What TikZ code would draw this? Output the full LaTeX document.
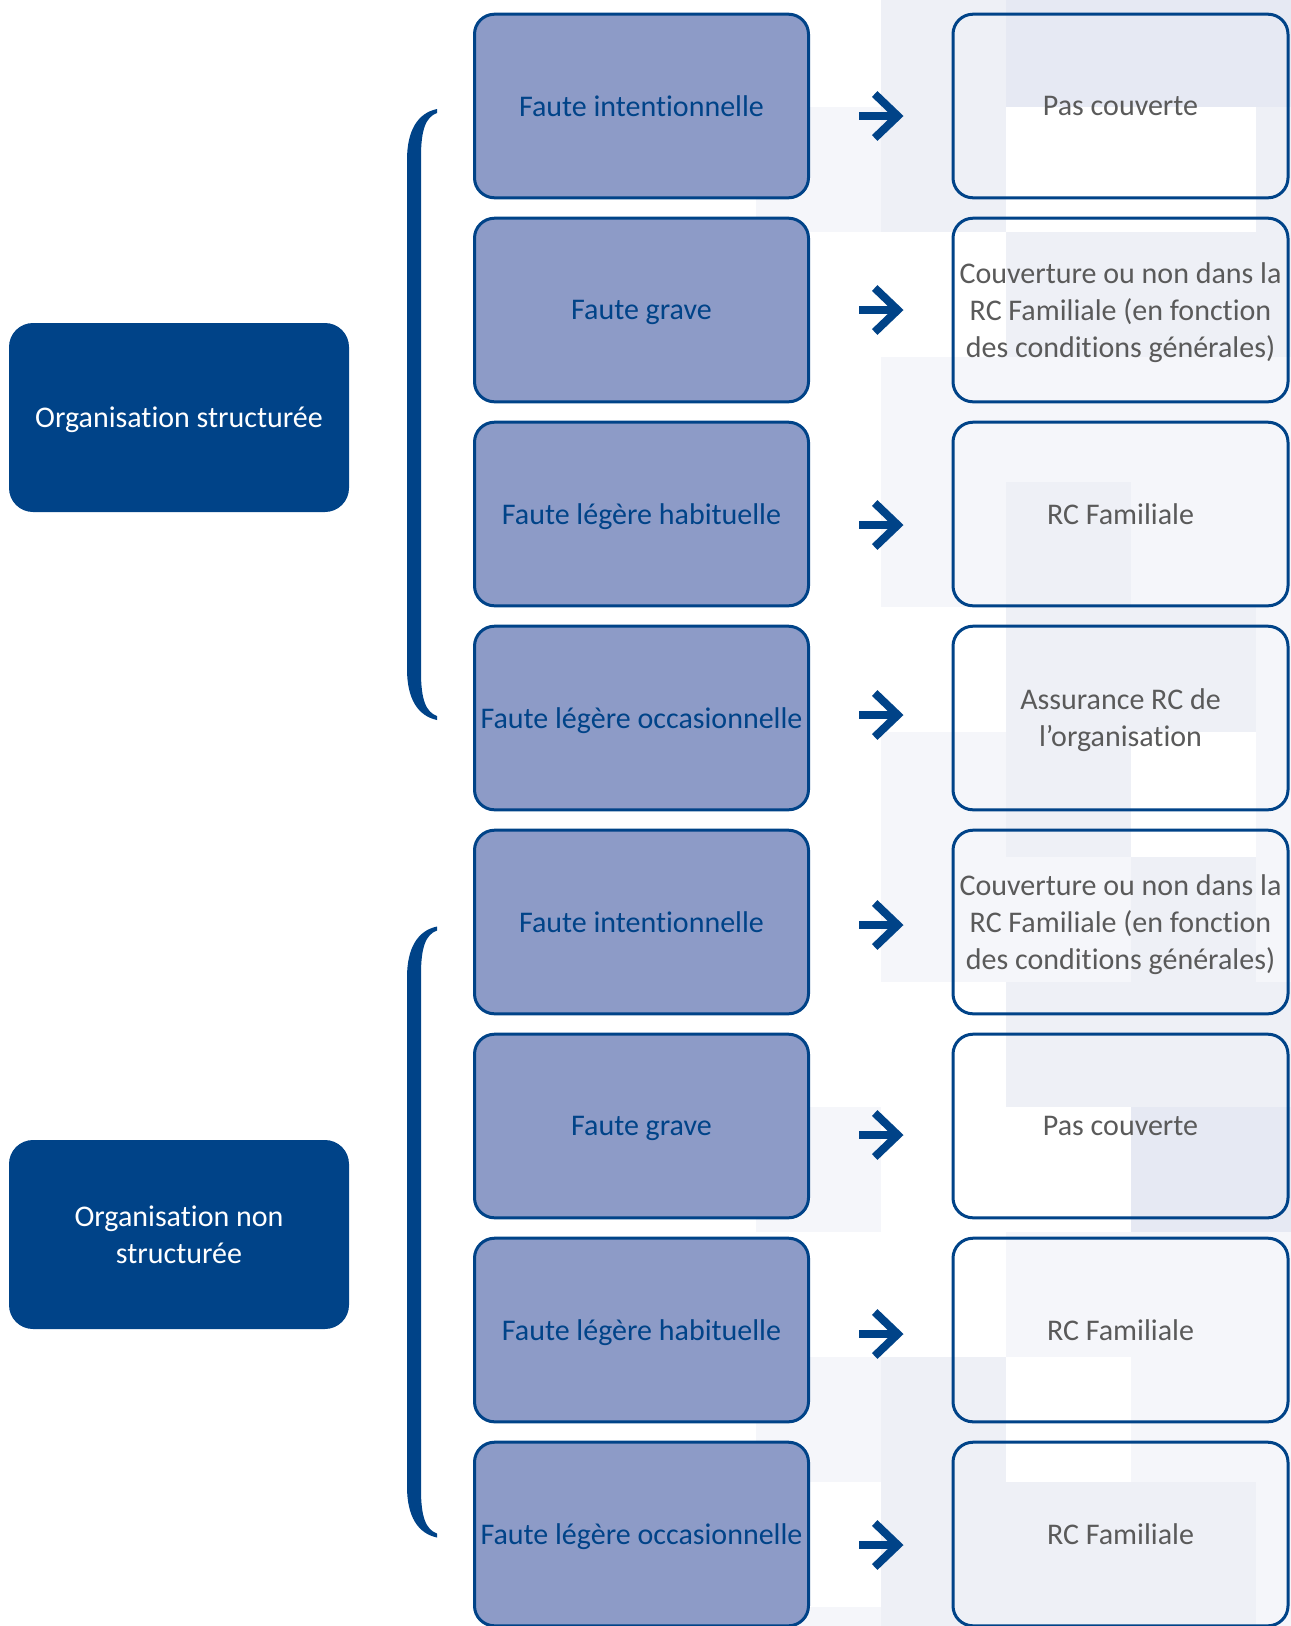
\documentclass[tikz,border=0pt]{standalone}
\usepackage{fontspec}
\setmainfont[Ligatures=NoCommon]{Carlito}
\usetikzlibrary{positioning,arrows.meta}
\definecolor{orgblue}{HTML}{004388}
\definecolor{fautefill}{HTML}{8D9BC7}
\definecolor{covgray}{HTML}{5A5A5A}
\definecolor{tile0}{HTML}{FFFFFF}
\definecolor{tile1}{HTML}{F5F6FA}
\definecolor{tile2}{HTML}{EEF0F6}
\definecolor{tile3}{HTML}{E6E9F3}
\tikzset{
boxtext/.style={
  font=\fontsize{30}{37}\selectfont,
  text depth=0pt,
  align=center
  },
orgbox/.style={
  boxtext,
  fill=orgblue,
  text=white,
  rounded corners=24pt,
  minimum width=340pt,
  minimum height=189pt
  },
fautebox/.style={
  boxtext,
  draw=orgblue,
  line width=3pt,
  fill=fautefill,
  text=orgblue,
  rounded corners=20pt,
  minimum width=334pt,
  minimum height=183.6pt
  },
covbox/.style={
  fautebox,
  fill=none,
  text=covgray,
  minimum width=335pt
  },
covarrow/.style={
  draw=orgblue,
  line width=8pt,
  -{Straight Barb[sharp,length=23pt,width=44pt]},
  shorten <=49pt,
  shorten >=48pt
  },
bracket/.style={fill=orgblue}
}

\begin{document}
\begin{tikzpicture}[x=1pt,y=-1pt]
\useasboundingbox (0,0) rectangle (1291,1626);

% background tiles
\foreach \r/\a/\b/\c/\d/\e in {0/0/2/3/3/3,1/1/2/0/0/2,2/0/0/2/2/2,3/0/1/1/1/1,
  4/0/1/2/1/1,5/0/0/2/2/1,6/0/1/2/0/1,7/0/1/1/2/1,8/0/0/2/2/2,9/1/0/0/3/3,
  10/0/0/1/1/1,11/1/2/0/1/1,12/0/2/2/2/1,13/1/2/2/2/1}{
  \fill[tile\a] (756,{-18+125*\r}) rectangle +(125,125);
  \fill[tile\b] (881,{-18+125*\r}) rectangle +(125,125);
  \fill[tile\c] (1006,{-18+125*\r}) rectangle +(125,125);
  \fill[tile\d] (1131,{-18+125*\r}) rectangle +(125,125);
  \fill[tile\e] (1256,{-18+125*\r}) rectangle +(35,125);
}

\node[orgbox] (org1) at (179,417.5) {Organisation structurée};
\node[orgbox] (org2) at (179,1234.5) {Organisation non\\structurée};

\node[fautebox] (f1) at (641.5,106) {Faute intentionnelle};
\node[fautebox,below=17.4pt of f1] (f2) {Faute grave};
\node[fautebox,below=17.4pt of f2] (f3) {Faute légère habituelle};
\node[fautebox,below=17.4pt of f3] (f4) {Faute légère occasionnelle};
\node[fautebox,below=17.4pt of f4] (f5) {Faute intentionnelle};
\node[fautebox,below=17.4pt of f5] (f6) {Faute grave};
\node[fautebox,below=17.4pt of f6] (f7) {Faute légère habituelle};
\node[fautebox,below=17.4pt of f7] (f8) {Faute légère occasionnelle};

\node[covbox,right=141.5pt of f1] (c1) {Pas couverte};
\node[covbox,right=141.5pt of f2] (c2) {Couverture ou non dans la\\RC Familiale (en fonction\\des conditions générales)};
\node[covbox,right=141.5pt of f3] (c3) {RC Familiale};
\node[covbox,right=141.5pt of f4] (c4) {Assurance RC de\\l’organisation};
\node[covbox,right=141.5pt of f5] (c5) {Couverture ou non dans la\\RC Familiale (en fonction\\des conditions générales)};
\node[covbox,right=141.5pt of f6] (c6) {Pas couverte};
\node[covbox,right=141.5pt of f7] (c7) {RC Familiale};
\node[covbox,right=141.5pt of f8] (c8) {RC Familiale};

\draw[covarrow] ([yshift=-10pt]f1.east) -- ([yshift=-10pt]c1.west);
\draw[covarrow] (f2.east) -- (c2.west);
\draw[covarrow] ([yshift=-11pt]f3.east) -- ([yshift=-11pt]c3.west);
\draw[covarrow] ([yshift=3pt]f4.east) -- ([yshift=3pt]c4.west);
\draw[covarrow] ([yshift=-3pt]f5.east) -- ([yshift=-3pt]c5.west);
\draw[covarrow] ([yshift=-9pt]f6.east) -- ([yshift=-9pt]c6.west);
\draw[covarrow] ([yshift=-4pt]f7.east) -- ([yshift=-4pt]c7.west);
\draw[covarrow] ([yshift=-11pt]f8.east) -- ([yshift=-11pt]c8.west);

% brackets
\fill[bracket] (437,109) .. controls (418,113) and (407,130) .. (407,160)
  -- (407,669) .. controls (407,699) and (418,716) .. (437,720)
  -- (437,716) .. controls (426,712) and (421,700) .. (421,672)
  -- (421,157) .. controls (421,129) and (426,117) .. (437,113) -- cycle;
\begin{scope}[shift={(0,817.5)}]
\fill[bracket] (437,109) .. controls (418,113) and (407,130) .. (407,160)
  -- (407,669) .. controls (407,699) and (418,716) .. (437,720)
  -- (437,716) .. controls (426,712) and (421,700) .. (421,672)
  -- (421,157) .. controls (421,129) and (426,117) .. (437,113) -- cycle;
\end{scope}
\end{tikzpicture}
\end{document}
